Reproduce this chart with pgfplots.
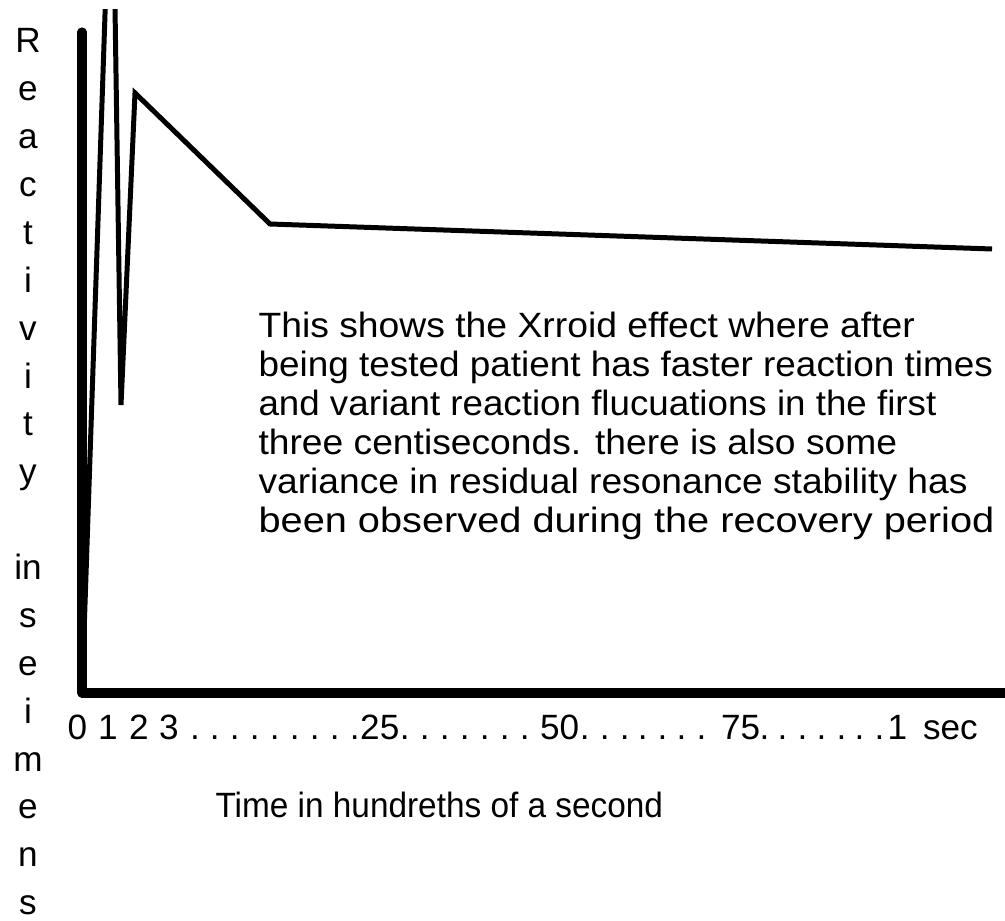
\documentclass[border=0pt]{standalone}
\usepackage{graphicx}
\usepackage{pgfplots}
\pgfplotsset{compat=1.18}
\usepackage{fontspec}
\setmainfont{Liberation Sans}
\begin{document}
\begin{tikzpicture}
\useasboundingbox (0,0) rectangle (10.05cm,9.2cm);
\begin{axis}[
  at={(0.82cm,2.27cm)}, anchor=south west,
  scale only axis, width=9.23cm, height=6.83cm,
  xmin=0, xmax=923, ymin=0, ymax=683,
  axis lines=left,
  axis line style={-, black, line width=2.6pt, line cap=round},
  y axis line style={shorten >=0.22cm},
  xtick=\empty, ytick=\empty,
]
\addplot[black, line width=1.42pt, mark=none] coordinates {(0,0) (30,885) (39,288) (53,600) (188,469) (910,444)};
\end{axis}
\begin{scope}[shift={(0,9.2cm)}, x=0.01cm, y=-0.01cm, every node/.style={inner sep=0pt, font=\fontsize{10}{12}\selectfont}]
  \foreach \t [count=\k from 0] in {R,e,a,c,t,i,v,i,t,y,{},in,s,e,i,m,e,n,s}
    \node[anchor=base] at (28,{53+47.9*\k}) {\t};
  \foreach \x/\t in {77.5/0,108/1,139/2,169/3,380/25,560/50,741/75,898/1,951/sec}
    \node[anchor=base] at (\x,740) {\t};
  \foreach \x in {195,215,235,255,275,295,315,335,355,405,425,445,465,485,505,525,585,605,625,643,663,682,702,765,783,803,822,842,860,880}
    \node[anchor=base] at (\x,740) {.};
  \node[anchor=base west] at (215,818) {\scalebox{0.949}[1]{Time in hundreths of a second}};
  \node[anchor=base west] at (258,338) {\scalebox{1.061}[1]{This shows the Xrroid effect where after}};
  \node[anchor=base west] at (258,377) {\scalebox{1.050}[1]{being tested patient has faster reaction times}};
  \node[anchor=base west] at (258,416) {\scalebox{1.045}[1]{and variant reaction flucuations in the first}};
  \node[anchor=base west] at (258,455) {\scalebox{1.059}[1]{three centiseconds. there is also some}};
  \node[anchor=base west] at (258,494) {\scalebox{1.058}[1]{variance in residual resonance stability has}};
  \node[anchor=base west] at (258,533) {\scalebox{1.131}[1]{been observed during the recovery period}};
\end{scope}
\end{tikzpicture}
\end{document}
